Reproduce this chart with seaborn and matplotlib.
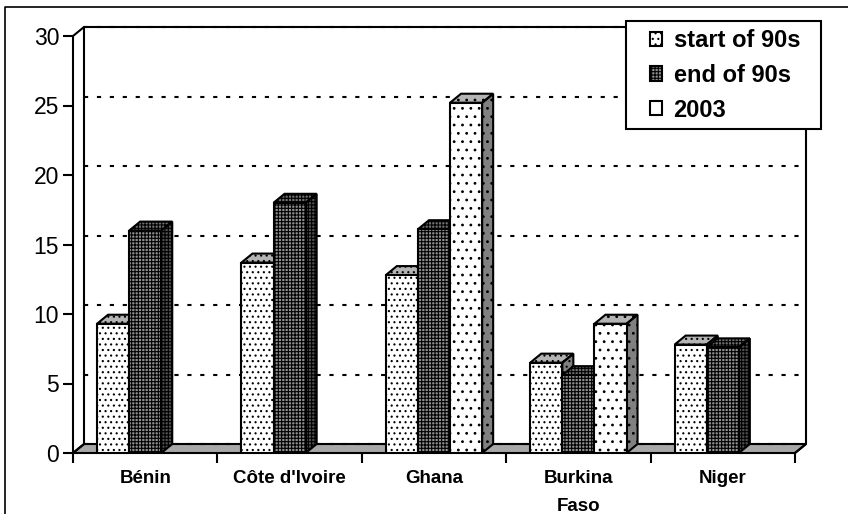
import matplotlib
matplotlib.use('Agg')
import matplotlib.pyplot as plt
import pandas as pd
import seaborn as sns
from matplotlib.lines import Line2D
from matplotlib.patches import Patch, Polygon, Rectangle

countries = ['Bénin', "Côte d'Ivoire", 'Ghana', 'Burkina\nFaso', 'Niger']
start_90s = [9.3, 13.7, 12.8, 6.5, 7.8]
end_90s = [16.0, 18.0, 16.1, 5.6, 7.6]
y2003 = [None, None, 25.2, 9.3, None]
series_names = ['start of 90s', 'end of 90s', '2003']
y_ticks = [0, 5, 10, 15, 20, 25, 30]

W, H = 848, 514
LEFT, RIGHT, BOTTOM, TOP = 73, 795, 453, 36
LW = 1.5

sns.set_theme(style='white')
plt.rcParams['font.family'] = ['Liberation Sans', 'DejaVu Sans']
plt.rcParams['hatch.linewidth'] = 0.8

df = pd.DataFrame({
    'country': countries * 3,
    'series': [s for s in series_names for _ in countries],
    'value': start_90s + end_90s + y2003,
})

fig = plt.figure(figsize=(W / 100, H / 100), dpi=100)
ax = fig.add_axes([LEFT / W, 1 - BOTTOM / H, (RIGHT - LEFT) / W, (BOTTOM - TOP) / H])

sns.barplot(data=df, x='country', y='value', hue='series', hue_order=series_names,
            palette=['white', 'black', 'white'], width=0.667, gap=0, saturation=1,
            legend=False, ax=ax, zorder=3)
ax.set_xlim(-0.5, 4.5)
ax.set_ylim(0, 30)
ax.set_xlabel('')
ax.set_ylabel('')
sns.despine(ax=ax, left=True, bottom=True)

# depth of the fake 3D boxes, in data units
dx = 11 / ((RIGHT - LEFT) / 5)
dy = 9 / ((BOTTOM - TOP) / 30)
x0, x1 = -0.5, 4.5

# styles per series: front hatch, front/hatch colours, top and side colours
styles = {
    0: dict(hatch='...', face='white', ink='black', top='#b4b4b4', side='#808080'),
    1: dict(hatch='+++++', face='#909090', ink='black', top='#707070', side='#505050'),
    2: dict(hatch='..', face='white', ink='black', top='#b4b4b4', side='#808080'),
}

# floor and walls
ax.add_patch(Polygon([(x0, 0), (x0 + dx, dy), (x1 + dx, dy), (x1, 0)], closed=True,
                     facecolor='#a8a8a8', edgecolor='black', lw=LW, clip_on=False, zorder=1))
wall = [(x0, 30), (x0 + dx, 30 + dy), (x1 + dx, 30 + dy), (x1 + dx, dy), (x1, 0)]
ax.plot(*zip(*wall), color='black', lw=LW, clip_on=False, zorder=1, solid_joinstyle='miter')
ax.plot([x0 + dx, x0 + dx, x0], [30 + dy, dy, 0], color='black', lw=LW, clip_on=False, zorder=1)
ax.plot([x0, x0], [0, 30], color='black', lw=LW, clip_on=False, zorder=1)
ax.hlines([t + dy for t in y_ticks], x0 + dx, x1 + dx, color='black', lw=LW,
          linestyles=[(0, (2, 4.2))], clip_on=False, zorder=1.5)

# paint the boxes left to right so each one hides the side of the previous
bars = []
for s, cont in enumerate(ax.containers):
    for bar in cont.patches:
        if bar.get_height() > 0:
            bars.append((bar.get_x(), s, bar))
bars.sort(key=lambda b: b[0])

z = 3
for bx, s, bar in bars:
    st = styles[s]
    h, bw = bar.get_height(), bar.get_width()
    top = [(bx, h), (bx + dx, h + dy), (bx + bw + dx, h + dy), (bx + bw, h)]
    side = [(bx + bw, 0), (bx + bw + dx, dy), (bx + bw + dx, h + dy), (bx + bw, h)]
    ax.add_patch(Polygon(side, closed=True, facecolor=st['side'], edgecolor=st['ink'],
                         hatch=st['hatch'], lw=0, zorder=z))
    ax.add_patch(Polygon(top, closed=True, facecolor=st['top'], edgecolor=st['ink'],
                         hatch=st['hatch'], lw=0, zorder=z))
    ax.add_patch(Polygon(side, closed=True, fill=False, edgecolor='black', lw=LW, zorder=z + 0.1))
    ax.add_patch(Polygon(top, closed=True, fill=False, edgecolor='black', lw=LW, zorder=z + 0.1))
    bar.set(facecolor=st['face'], edgecolor=st['ink'], hatch=st['hatch'], linewidth=0, zorder=z + 0.2)
    ax.add_patch(Rectangle((bx, 0), bw, h, fill=False, edgecolor='black', lw=LW, zorder=z + 0.3))
    z += 1

ax.set_yticks(y_ticks)
ax.set_xticks([i - 0.5 for i in range(len(countries) + 1)], minor=True)
ax.tick_params(axis='x', which='major', length=0, pad=12)
ax.tick_params(axis='x', which='minor', length=7, width=LW, color='black', bottom=True)
ax.tick_params(axis='y', length=7, width=LW, color='black', left=True, pad=3, labelsize=16.5, labelcolor='black')
for lab in ax.get_xticklabels():
    lab.set(fontsize=13.5, fontweight='bold', color='black', linespacing=1.89)

# legend box is drawn by hand so it can be wider than its contents
ax.add_artist(Rectangle((626 / W, 1 - 129 / H), 195 / W, 108 / H, transform=fig.transFigure,
                        facecolor='white', edgecolor='black', lw=LW, clip_on=False, zorder=40))
handles = [
    Patch(facecolor='white', edgecolor='black', hatch='...', lw=LW),
    Patch(facecolor='#909090', edgecolor='black', hatch='+++++', lw=LW),
    Patch(facecolor='white', edgecolor='black', hatch='.', lw=LW),
]
leg = ax.legend(handles, series_names, loc='upper left', frameon=False,
                bbox_to_anchor=(650 / W, 1 - 29 / H), bbox_transform=fig.transFigure,
                borderaxespad=0, borderpad=0, handlelength=0.52, handleheight=0.55,
                handletextpad=0.48, labelspacing=0.5, prop=dict(size=17, weight='bold'),
                labelcolor='black')
leg.set_zorder(50)

# outer border of the picture, left and top only
fig.add_artist(Line2D([5 / W, 5 / W, 1], [0, 1 - 7 / H, 1 - 7 / H], color='black', lw=1.2))

fig.savefig('out.png', dpi=100)
